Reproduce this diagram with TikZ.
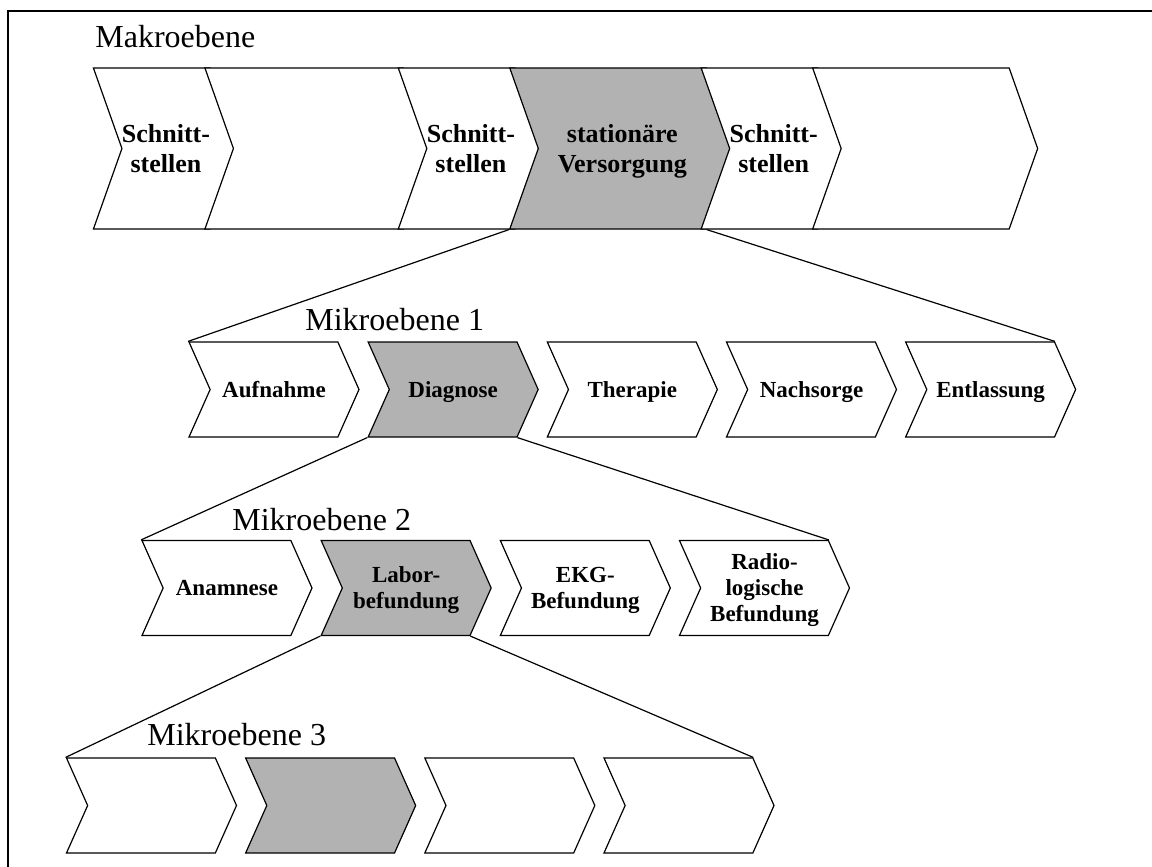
\documentclass[tikz,border=0pt]{standalone}
\usepackage{fontspec}
\setmainfont{Liberation Serif}
\usetikzlibrary{positioning,shapes.symbols}
\definecolor{selgray}{RGB}{178,178,178}

\begin{document}
\begin{tikzpicture}[x=0.5pt, y=-0.5pt, node distance=14.5pt,
	proc/.style={signal, signal from=west, signal to=east, draw, line width=0.6pt,
		fill=white, inner sep=0pt, minimum width=85pt, minimum height=47.5pt,
		signal pointer angle=132, align=center, text depth=0pt,
		font=\fontsize{11.5}{13}\selectfont\bfseries},
	makro/.style={proc, minimum height=80.5pt, signal pointer angle=141,
		font=\fontsize{13}{15}\selectfont\bfseries},
	sel/.style={fill=selgray},
	ebene/.style={anchor=base west, inner sep=0pt, font=\fontsize{16}{18}\selectfont},
	zoomline/.style={line width=0.6pt}]
		\useasboundingbox (0,0) rectangle (1152,867);
		\draw[line width=1pt] (8,867) -- (8,11) -- (1152,11);
		
		% Makroebene
		\node [ebene] (makro) at (95,47) {Makroebene};
		\node [makro, minimum width=71pt] (m1) at (166,148.5) {Schnitt-\\stellen};
		\node [makro, minimum width=113.5pt, right=-3.2pt of m1] (m2) {};
		\node [makro, minimum width=66pt, right=-3.2pt of m2] (m3) {Schnitt-\\stellen};
		\node [makro, sel, minimum width=112.5pt, right=-3.2pt of m3] (vers) {station\"are\\Versorgung};
		\node [makro, minimum width=66.5pt, right=-3.2pt of vers] (m5) {Schnitt-\\stellen};
		\node [makro, minimum width=112.5pt, right=-3.2pt of m5] (m6) {};
		
		% Mikroebene 1
		\node [ebene] (mikro1) at (305,330) {Mikroebene 1};
		\node [proc] (aufn) at (274,389.5) {Aufnahme};
		\node [proc, sel, right=of aufn] (diag) {Diagnose};
		\node [proc, right=of diag] (ther) {Therapie};
		\node [proc, right=of ther] (nach) {Nachsorge};
		\node [proc, right=of nach] (entl) {Entlassung};
		
		% Mikroebene 2
		\node [ebene] (mikro2) at (232,530) {Mikroebene 2};
		\node [proc] (anam) at (227,588) {Anamnese};
		\node [proc, sel, right=of anam] (labor) {Labor-\\befundung};
		\node [proc, right=of labor] (ekg) {EKG-\\Befundung};
		\node [proc, right=of ekg] (radio) {Radio-\\logische\\Befundung};
		
		% Mikroebene 3
		\node [ebene] (mikro3) at (147,745) {Mikroebene 3};
		\node [proc] (p1) at (151.5,805.5) {};
		\node [proc, sel, right=of p1] (p2) {};
		\node [proc, right=of p2] (p3) {};
		\node [proc, right=of p3] (p4) {};
		
		\draw[zoomline]
		(vers.south west) -- (aufn.north west);
		\draw[zoomline]
		(vers.south east) -- (entl.north east);
		\draw[zoomline]
		(diag.south west) -- (anam.north west);
		\draw[zoomline]
		(diag.south east) -- (radio.north east);
		\draw[zoomline]
		(labor.south west) -- (p1.north west);
		\draw[zoomline]
		(labor.south east) -- (p4.north east);
		
\end{tikzpicture}
\end{document}
